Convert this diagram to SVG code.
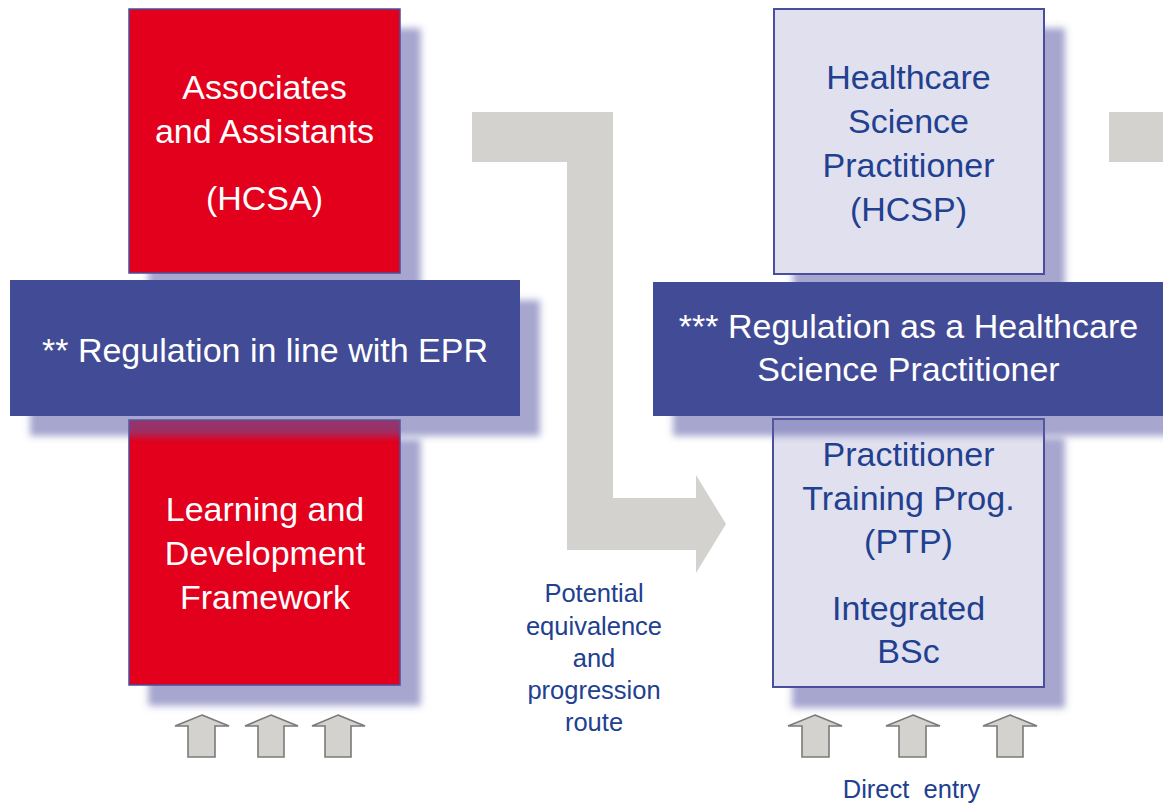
<svg xmlns="http://www.w3.org/2000/svg" width="1163" height="806" viewBox="0 0 1163 806">
  <defs>
    <filter id="sh" x="-20%" y="-20%" width="140%" height="140%">
      <feGaussianBlur in="SourceAlpha" stdDeviation="3.5" result="b"/>
      <feOffset in="b" dx="20" dy="20" result="o"/>
      <feFlood flood-color="#5b5ba8" flood-opacity="0.55"/>
      <feComposite in2="o" operator="in" result="s"/>
      <feMerge><feMergeNode in="s"/><feMergeNode in="SourceGraphic"/></feMerge>
    </filter>
  </defs>
  <style>
    text { font-family: "Liberation Sans", Arial, sans-serif; text-anchor: middle; }
    .big { font-size: 34px; }
    .small { font-size: 25.5px; fill: #21408f; }
    .w { fill: #ffffff; }
    .b { fill: #21408f; }
    .red { fill: #e2001a; stroke: #4a4f9c; stroke-width: 1.5; }
    .lav { fill: #e1e0ef; stroke: #4a4f9c; stroke-width: 2; }
    .band { fill: #434c96; }
    .grey { fill: #d3d2ce; }
    .up { fill: #d3d2ce; stroke: #7a7a78; stroke-width: 1.6; stroke-linejoin: miter; }
  </style>
  <rect width="1163" height="806" fill="#ffffff"/>

  <g id="connectors">
    <polygon class="grey" points="472,112 613,112 613,498 696,498 696,475 726,524 696,573 696,550 567,550 567,162 472,162"/>
    <rect class="grey" x="1109" y="112" width="60" height="50"/>
    <polygon class="up" points="202,715 229,726 215,726 215,757 188,757 188,726 175,726"/>
    <polygon class="up" points="271,715 298,726 284,726 284,757 258,757 258,726 245,726"/>
    <polygon class="up" points="338,715 365,726 351,726 351,757 325,757 325,726 312,726"/>
    <polygon class="up" points="815,715 842,726 829,726 829,757 802,757 802,726 788,726"/>
    <polygon class="up" points="913,715 940,726 926,726 926,757 899,757 899,726 886,726"/>
    <polygon class="up" points="1010,715 1037,726 1023,726 1023,757 997,757 997,726 983,726"/>
  </g>

  <g id="hcsa">
    <rect class="red" x="129" y="9" width="271" height="264" filter="url(#sh)"/>
    <text class="big w" x="264.5" y="99">Associates</text>
    <text class="big w" x="264.5" y="143">and Assistants</text>
    <text class="big w" x="264.5" y="210">(HCSA)</text>
  </g>

  <g id="ldf">
    <rect class="red" x="129" y="420" width="271" height="265" filter="url(#sh)"/>
    <text class="big w" x="265" y="521">Learning and</text>
    <text class="big w" x="265" y="565">Development</text>
    <text class="big w" x="265" y="609">Framework</text>
  </g>

  <g id="hcsp">
    <rect class="lav" x="774" y="9" width="270" height="265" filter="url(#sh)"/>
    <text class="big b" x="908.5" y="89">Healthcare</text>
    <text class="big b" x="908.5" y="133">Science</text>
    <text class="big b" x="908.5" y="177">Practitioner</text>
    <text class="big b" x="908.5" y="221">(HCSP)</text>
  </g>

  <g id="ptp">
    <rect class="lav" x="773" y="419" width="271" height="268" filter="url(#sh)"/>
    <text class="big b" x="908.5" y="466">Practitioner</text>
    <text class="big b" x="908.5" y="510">Training Prog.</text>
    <text class="big b" x="908.5" y="553">(PTP)</text>
    <text class="big b" x="908.5" y="620">Integrated</text>
    <text class="big b" x="908.5" y="663">BSc</text>
  </g>

  <g id="epr">
    <rect class="band" x="10" y="280" width="510" height="136" filter="url(#sh)"/>
    <text class="big w" x="265" y="362">** Regulation in line with EPR</text>
  </g>

  <g id="hcsp-reg">
    <rect class="band" x="653" y="282" width="540" height="134" filter="url(#sh)"/>
    <text class="big w" x="908.5" y="338">*** Regulation as a Healthcare</text>
    <text class="big w" x="908.5" y="381">Science Practitioner</text>
  </g>

  <g id="labels">
    <text class="small" x="594" y="602">Potential</text>
    <text class="small" x="594" y="635">equivalence</text>
    <text class="small" x="594" y="667">and</text>
    <text class="small" x="594" y="699">progression</text>
    <text class="small" x="594" y="731">route</text>
    <text class="small" x="911.5" y="798" xml:space="preserve" style="white-space:pre">Direct  entry</text>
  </g>
</svg>
